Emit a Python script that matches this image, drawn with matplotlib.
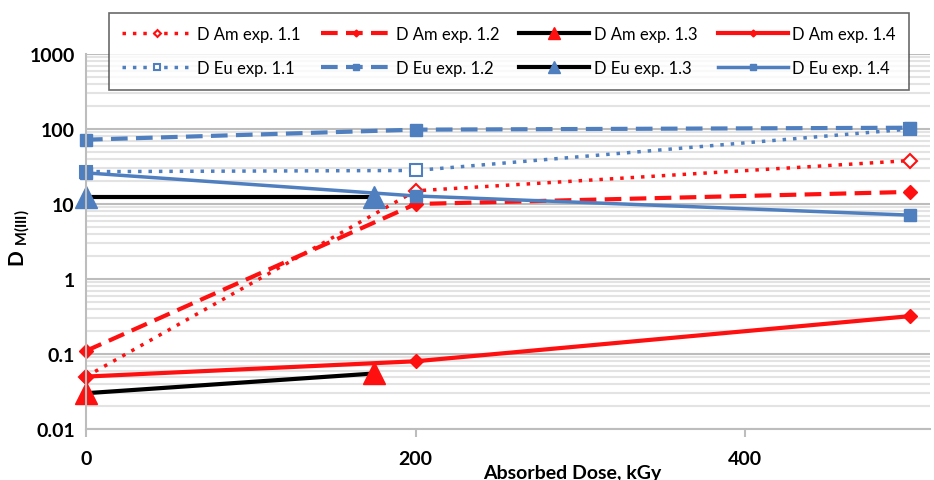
import matplotlib.pyplot as plt
from matplotlib.ticker import FixedLocator, LogLocator, NullFormatter

plt.rcParams["font.family"] = ["Lato", "DejaVu Sans"]
plt.rcParams["mathtext.fontset"] = "custom"
plt.rcParams["mathtext.bf"] = "Lato:bold"
plt.rcParams["mathtext.rm"] = "Lato"

RED = "#ff1010"
BLUE = "#4f7fbf"

# dose values, kGy
dose_full = [0, 200, 500]
dose_short = [0, 175]

am_11 = [0.05, 15, 38]
am_12 = [0.11, 10, 14.5]
am_13 = [0.03, 0.055]
am_14 = [0.05, 0.08, 0.32]

eu_11 = [27, 28, 100]
eu_12 = [72, 98, 104]
eu_13 = [12.5, 12.5]
eu_14 = [26, 12.8, 7.1]

y_ticks = [0.01, 0.1, 1, 10, 100, 1000]
y_labels = ["0.01", "0.1", "1", "10", "100", "1000"]
x_ticks = [0, 200, 400]

fig = plt.figure(figsize=(9.34, 4.81), dpi=100)
ax = fig.add_axes([86 / 934, 1 - 430 / 481, (930 - 86) / 934, (430 - 55) / 481])

h = {}
h["am11"], = ax.plot(dose_full, am_11, color=RED, ls=(0, (1, 2)), lw=2.5,
                     marker="D", ms=7, mfc="white", mec=RED, mew=1.5, label="D Am exp. 1.1")
h["am12"], = ax.plot(dose_full, am_12, color=RED, ls=(0, (4, 2)), lw=3,
                     marker="D", ms=7, mfc=RED, mec=RED, label="D Am exp. 1.2")
h["am13"], = ax.plot(dose_short, am_13, color="black", ls="-", lw=3,
                     marker="^", ms=16, mfc=RED, mec=RED, label="D Am exp. 1.3")
h["am14"], = ax.plot(dose_full, am_14, color=RED, ls="-", lw=3,
                     marker="D", ms=7, mfc=RED, mec=RED, label="D Am exp. 1.4")
h["eu11"], = ax.plot(dose_full, eu_11, color=BLUE, ls=(0, (1, 2)), lw=2.5,
                     marker="s", ms=9, mfc="white", mec=BLUE, mew=1.5, label="D Eu exp. 1.1")
h["eu12"], = ax.plot(dose_full, eu_12, color=BLUE, ls=(0, (4, 2)), lw=3,
                     marker="s", ms=9, mfc=BLUE, mec=BLUE, label="D Eu exp. 1.2")
h["eu13"], = ax.plot(dose_short, eu_13, color="black", ls="-", lw=3,
                     marker="^", ms=16, mfc=BLUE, mec=BLUE, label="D Eu exp. 1.3")
h["eu14"], = ax.plot(dose_full, eu_14, color=BLUE, ls="-", lw=2.5,
                     marker="s", ms=9, mfc=BLUE, mec=BLUE, label="D Eu exp. 1.4")
for line in h.values():
    line.set_clip_on(False)

ax.set_yscale("log")
ax.set_ylim(0.01, 1000)
ax.set_xlim(0, 512)

ax.yaxis.set_major_locator(FixedLocator(y_ticks))
ax.set_yticklabels(y_labels)
ax.yaxis.set_minor_locator(LogLocator(base=10, subs=range(2, 10)))
ax.yaxis.set_minor_formatter(NullFormatter())
ax.set_xticks(x_ticks)

ax.grid(axis="y", which="major", color="#bdbdbd", lw=1.5)
ax.grid(axis="y", which="minor", color="#e3e3e3", lw=1.5)
ax.set_axisbelow(True)

for s in ["top", "right"]:
    ax.spines[s].set_visible(False)
for s in ["left", "bottom"]:
    ax.spines[s].set_color("#bdbdbd")
    ax.spines[s].set_linewidth(1.5)

ax.tick_params(axis="y", which="both", length=0, pad=8, labelsize=14)
ax.tick_params(axis="x", length=6, color="#bdbdbd", width=1.5, pad=9, labelsize=14)
for lab in ax.get_xticklabels() + ax.get_yticklabels():
    lab.set_fontweight("bold")

fig.text(20 / 934, 1 - 238 / 481, r"$\mathbf{D}$ $_{\mathbf{M(III)}}$", rotation=90,
         fontsize=15, ha="center", va="center")
fig.text(572 / 934, 1 - 474 / 481, "Absorbed Dose, kGy", fontsize=14,
         fontweight="bold", ha="center", va="center")

order = ["am11", "eu11", "am12", "eu12", "am13", "eu13", "am14", "eu14"]
leg = fig.legend([h[k] for k in order], [h[k].get_label() for k in order],
                 ncol=4, loc="center", bbox_to_anchor=(509 / 934, 1 - 52 / 481),
                 frameon=True, fancybox=False, edgecolor="#444444", fontsize=12,
                 handlelength=4.2, columnspacing=1.2, handletextpad=0.3,
                 borderpad=0.8, labelspacing=1.1, markerscale=0.5)
leg.get_frame().set_linewidth(1.2)

fig.savefig("out.png", dpi=100)
